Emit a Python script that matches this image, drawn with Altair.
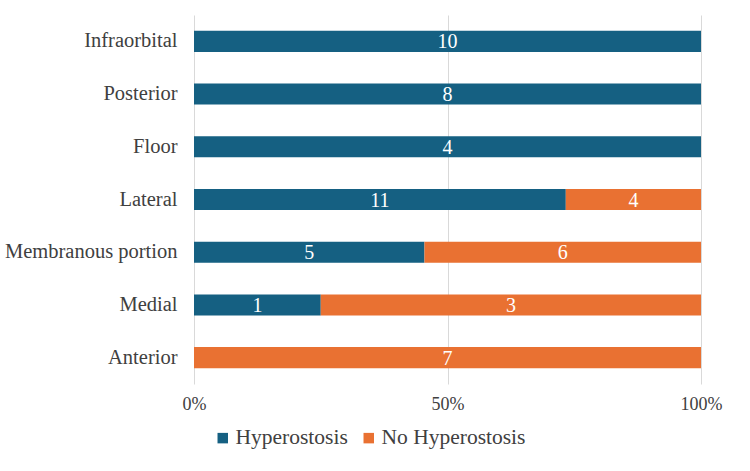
import altair as alt
import pandas as pd

categories = ["Infraorbital", "Posterior ", "Floor", "Lateral ", "Membranous portion", "Medial", "Anterior"]
hyperostosis = [10, 8, 4, 11, 5, 1, 0]
no_hyperostosis = [0, 0, 0, 4, 6, 3, 7]
series = ["Hyperostosis", "No Hyperostosis"]
colors = ["#156082", "#E97132"]

rows = []
for c, h, n in zip(categories, hyperostosis, no_hyperostosis):
    rows.append({"cat": c, "series": series[0], "val": h, "ord": 0})
    rows.append({"cat": c, "series": series[1], "val": n, "ord": 1})
df = pd.DataFrame(rows)

FONT = "'Liberation Serif', 'Times New Roman', serif"

base = alt.Chart(df).transform_filter("datum.val > 0").transform_stack(
    stack="val", groupby=["cat"], as_=["x0", "x1"], offset="normalize",
    sort=[alt.SortField("ord", order="ascending")]
).transform_calculate(mid="(datum.x0 + datum.x1) / 2")

yenc = alt.Y("cat:N", sort=categories, title=None,
             scale=alt.Scale(paddingInner=0.6, paddingOuter=0.3),
             axis=alt.Axis(labelFont=FONT, labelFontSize=20.5, labelColor="#404040",
                           labelPadding=17, ticks=False, domain=False, grid=False))

bars = base.mark_bar().encode(
    x=alt.X("x0:Q", scale=alt.Scale(domain=[0, 1]), title=None,
            axis=alt.Axis(format="%", values=[0, 0.5, 1], labelFont=FONT, labelFontSize=18,
                          labelColor="#404040", labelPadding=11, ticks=False, domain=False,
                          labelFlush=False,
                          grid=True, gridColor="#d9d9d9", gridWidth=1)),
    x2="x1:Q",
    y=yenc,
    color=alt.Color("series:N", scale=alt.Scale(domain=series, range=colors), title=None,
                    legend=alt.Legend(orient="none", direction="horizontal", legendX=18, legendY=412,
                                      symbolType="square", symbolSize=110, symbolStrokeWidth=0,
                                      labelFont=FONT, labelFontSize=21.5, labelColor="#404040",
                                      columnPadding=10, symbolOffset=0, labelOffset=2)),
)

texts = base.mark_text(color="white", font=FONT, fontSize=20, baseline="middle", align="center", dy=1).encode(
    x="mid:Q",
    y=alt.Y("cat:N", sort=categories),
    text="val:Q",
)

chart = alt.layer(bars, texts).properties(
    width=507, height=369,
    autosize=alt.AutoSizeParams(type="none"),
    padding={"left": 194, "top": 15, "right": 49, "bottom": 87},
).configure_view(stroke=None)

chart.save("out.html", embed_options={"renderer": "svg", "actions": False})
